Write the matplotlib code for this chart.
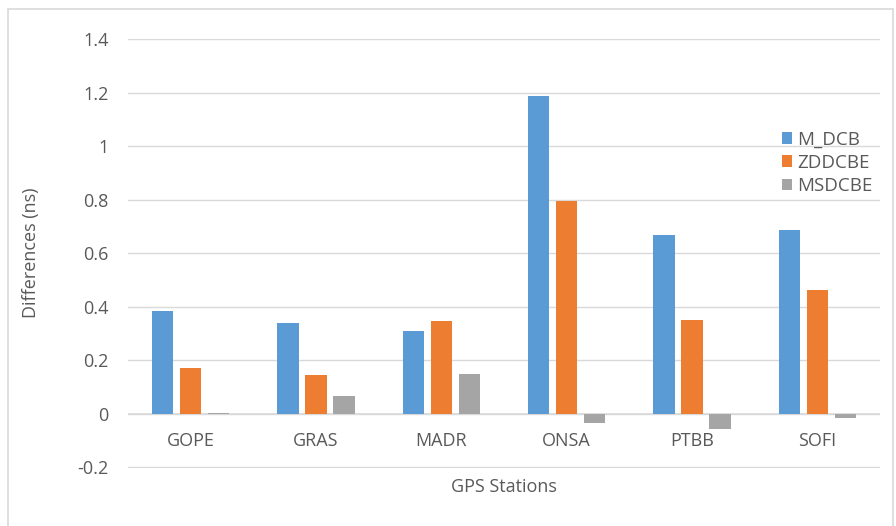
import matplotlib
matplotlib.use("Agg")
import matplotlib.pyplot as plt
import numpy as np
from matplotlib.patches import Rectangle

stations = ["GOPE", "GRAS", "MADR", "ONSA", "PTBB", "SOFI"]
m_dcb = [0.386, 0.340, 0.309, 1.187, 0.667, 0.689]
zddcbe = [0.172, 0.146, 0.348, 0.797, 0.352, 0.463]
msdcbe = [0.003, 0.068, 0.147, -0.034, -0.058, -0.017]
series_names = ["M_DCB", "ZDDCBE", "MSDCBE"]
colors = ["#5B9BD5", "#ED7D31", "#A5A5A5"]
yticks = [-0.2, 0, 0.2, 0.4, 0.6, 0.8, 1, 1.2, 1.4]

plt.rcParams['font.family'] = ['Open Sans', 'DejaVu Sans']
txt = "#595959"
fs = 13

W, H = 896, 526
fig = plt.figure(figsize=(W / 100, H / 100), dpi=100)
# chart area border
fig.patches.append(Rectangle((8 / W, -0.01), (893 - 8) / W, 1 - 9 / H + 0.01,
                             transform=fig.transFigure, fill=False,
                             edgecolor="#D9D9D9", linewidth=1.2))

left, right = 128, 880
top, bottom = 39, 467.7
ax = fig.add_axes([left / W, 1 - bottom / H, (right - left) / W, (bottom - top) / H])

x = np.arange(len(stations))
step = 0.223
width = 0.17
for i, (vals, name, c) in enumerate(zip([m_dcb, zddcbe, msdcbe], series_names, colors)):
    ax.bar(x + (i - 1) * step, vals, width=width, color=c, label=name, zorder=3)

ax.set_xlim(-0.5, len(stations) - 0.5)
ax.set_ylim(-0.2015, 1.4015)
ax.set_yticks(yticks)
ax.set_yticklabels([f"{v:g}" for v in yticks])
ax.yaxis.grid(True, color="#D9D9D9", linewidth=1.0, zorder=0)
ax.axhline(0, color="#D9D9D9", linewidth=1.2, zorder=2)
for s in ax.spines.values():
    s.set_visible(False)
ax.tick_params(axis="both", length=0, labelsize=fs, labelcolor=txt)
ax.tick_params(axis="y", pad=14)
ax.set_xticks([])
for xi, name in zip(x, stations):
    ax.text(xi, -0.103, name, ha="center", va="center", fontsize=fs, color=txt)

fig.text(31 / W, 1 - 253 / H, "Differences (ns)", rotation=90, ha="center",
         va="center", fontsize=fs, color=txt)
fig.text(504 / W, 1 - 487 / H, "GPS Stations", ha="center", va="center",
         fontsize=fs, color=txt)

leg = ax.legend(loc="upper left", bbox_to_anchor=((774 - left) / (right - left),
                                                  1 - (123 - top) / (bottom - top)),
                frameon=False, fontsize=13.5, handlelength=0.55, handleheight=0.55,
                handletextpad=0.3, labelspacing=0.28, borderaxespad=0)
for t in leg.get_texts():
    t.set_color(txt)

fig.savefig("out.png", dpi=100)
